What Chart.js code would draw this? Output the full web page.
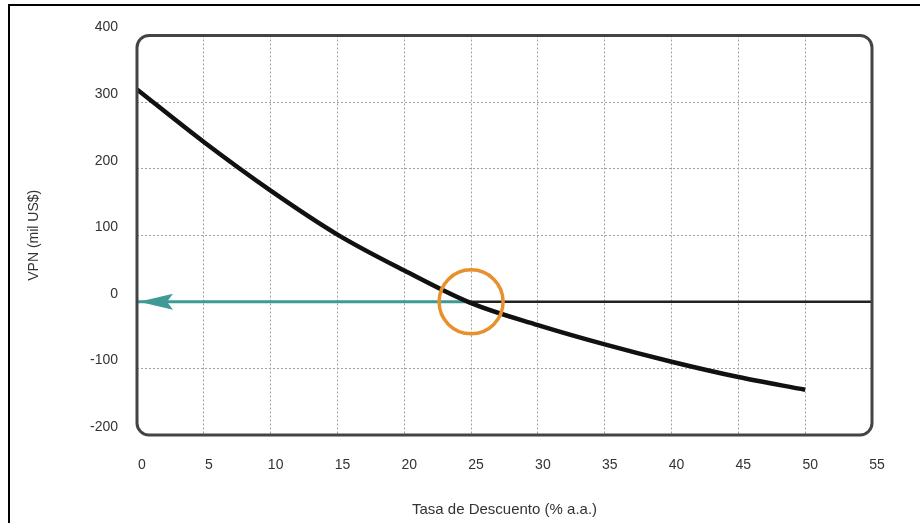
<!DOCTYPE html>
<html>
<head>
<meta charset="utf-8">
<script src="https://cdn.jsdelivr.net/npm/chart.js@4.4.1/dist/chart.umd.min.js"></script>
<style>
  html, body { margin: 0; padding: 0; background: #fff; }
  #wrap { width: 920px; height: 523px; position: relative; }
</style>
</head>
<body>
<div id="wrap"><canvas id="npvChart" width="920" height="523"></canvas></div>
<script>
// Tasa de descuento (% a.a.) y VPN (mil US$)
const tasas = [0, 5, 10, 15, 20, 25, 30, 35, 40, 45, 50];
const vpn = [319, 240, 167, 101, 47, -2, -35, -64, -90, -113, -132];
const tir = 25;           // punto donde VPN = 0
const xMax = 55;

const curva = tasas.map((t, i) => ({x: t, y: vpn[i]}));

// grid lines only inside the frame (edges are covered by the rounded box)
function innerGrid(ctx) {
  const s = ctx.scale;
  if (ctx.tick && (ctx.tick.value === s.min || ctx.tick.value === s.max)) return 'rgba(0,0,0,0)';
  return '#a0a0a0';
}

// marco redondeado del area del grafico + borde del recorte + punta de flecha
const framePlugin = {
  id: 'frame',
  beforeDraw(chart) {
    const c = chart.ctx;
    c.save();
    c.strokeStyle = '#000';
    c.lineWidth = 2;
    c.beginPath();
    c.moveTo(9, 523); c.lineTo(9, 5); c.lineTo(920, 5);
    c.stroke();
    c.restore();
  },
  afterDatasetsDraw(chart) {
    const a = chart.chartArea;
    const c = chart.ctx;
    const xs = chart.scales.x, ys = chart.scales.y;
    // arrow head at VPN = 0, tasa = 0
    const tipX = xs.getPixelForValue(0) + 2;
    const tipY = ys.getPixelForValue(0);
    c.save();
    c.fillStyle = '#3f9a96';
    c.beginPath();
    c.moveTo(tipX, tipY);
    c.lineTo(tipX + 34, tipY - 8);
    c.lineTo(tipX + 28, tipY);
    c.lineTo(tipX + 34, tipY + 8);
    c.closePath();
    c.fill();
    c.strokeStyle = '#444';
    c.lineWidth = 3;
    c.beginPath();
    c.roundRect(a.left, a.top, a.right - a.left, a.bottom - a.top, 12);
    c.stroke();
    c.restore();
  }
};

const ctx = document.getElementById('npvChart').getContext('2d');
const myChart = new Chart(ctx, {
  type: 'scatter',
  data: {
    datasets: [
      { // linea del cero a la derecha
        data: [{x: tir, y: 0}, {x: xMax, y: 0}],
        showLine: true, borderColor: '#222', borderWidth: 2.5,
        pointRadius: 0, order: 3
      },
      { // flecha verde azulada hacia el eje
        data: [{x: tir, y: 0}, {x: 0, y: 0}],
        showLine: true, borderColor: '#3f9a96', borderWidth: 3,
        pointRadius: 0, order: 2
      },
      { // curva VPN
        data: curva,
        showLine: true, borderColor: '#111', borderWidth: 4.5,
        cubicInterpolationMode: 'monotone', pointRadius: 0, order: 1
      },
      { // circulo naranja en la TIR
        data: [{x: tir, y: 0}],
        pointStyle: 'circle', pointRadius: 32, borderWidth: 3.5,
        pointBorderColor: '#e8912c', backgroundColor: 'rgba(0,0,0,0)', order: 0
      }
    ]
  },
  options: {
    responsive: false,
    animation: false,
    layout: {padding: {left: 20, top: 35, right: 48, bottom: 4}},
    plugins: {legend: {display: false}, tooltip: {enabled: false}},
    hover: {mode: null},
    scales: {
      x: {
        type: 'linear', min: 0, max: xMax,
        border: {display: false, dash: [2, 2]},
        grid: {color: innerGrid, drawTicks: false, lineWidth: 1},
        ticks: {stepSize: 5, padding: 22, labelOffset: 5, color: '#333',
                font: {family: 'Liberation Sans', size: 14}},
        title: {display: true, text: 'Tasa de Descuento (% a.a.)', color: '#333',
                font: {family: 'Liberation Sans', size: 15}, padding: {top: 0, bottom: 0}},
        afterFit(s) { s.height = 84; }
      },
      y: {
        min: -200, max: 400,
        border: {display: false, dash: [2, 2]},
        grid: {color: innerGrid, drawTicks: false, lineWidth: 1},
        ticks: {stepSize: 100, padding: 19, labelOffset: -8, color: '#333',
                font: {family: 'Liberation Sans', size: 14}},
        title: {display: true, text: 'VPN (mil US$)', color: '#333',
                font: {family: 'Liberation Sans', size: 14}, padding: {top: 6, bottom: 0}},
        afterFit(s) { s.width = 117; }
      }
    }
  },
  plugins: [framePlugin]
});
</script>
</body>
</html>
